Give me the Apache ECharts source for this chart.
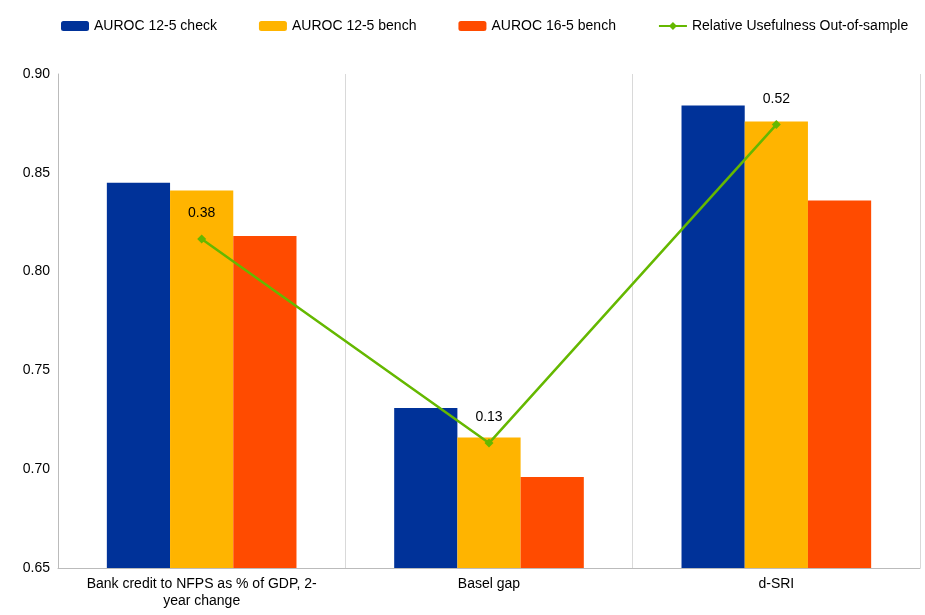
<!DOCTYPE html>
<html><head><meta charset="utf-8">
<script src="https://cdn.jsdelivr.net/npm/echarts@6/dist/echarts.min.js"></script>
<style>html,body{margin:0;padding:0;background:#fff}#c{width:925px;height:615px}</style>
</head><body><div id="c"></div>
<script>
const categories = ['Bank credit to NFPS as % of GDP, 2-\nyear change', 'Basel gap', 'd-SRI'];
const check125 = [0.845, 0.731, 0.884];
const bench125 = [0.841, 0.716, 0.876];
const bench165 = [0.818, 0.696, 0.836];
const usefulness = [0.38, 0.13, 0.52];
const yTicks = [0.65, 0.70, 0.75, 0.80, 0.85, 0.90];

const chart = echarts.init(document.getElementById('c'));
const font = 'Liberation Sans';
chart.setOption({
  textStyle: {fontFamily: font},
  legend: {top: 14, left: 56, width: 880, itemGap: 42, itemWidth: 28, itemHeight: 10,
    textStyle: {fontSize: 14, color: '#000', fontFamily: font},
    data: ['AUROC 12-5 check','AUROC 12-5 bench','AUROC 16-5 bench','Relative Usefulness Out-of-sample']},
  grid: {left: 58, right: 5, top: 74, bottom: 47},
  xAxis: {type: 'category', data: categories,
    axisLine: {onZero: false, lineStyle: {color: '#bbb'}}, axisTick: {show: false},
    splitLine: {show: true, interval: 0, lineStyle: {color: '#d9d9d9'}},
    axisLabel: {interval: 0, color: '#000', fontSize: 14, lineHeight: 17, margin: 8}},
  yAxis: [{type: 'value', min: 0.65, max: 0.90, interval: 0.05,
    axisLabel: {color: '#000', fontSize: 14, formatter: v => v.toFixed(2)},
    axisLine: {show: true, lineStyle: {color: '#bbb'}},
    splitLine: {show: false}},
    {type: 'value', min: -0.023, max: 0.582, show: false, splitLine: {show: false}}],
  series: [
    {name: 'AUROC 12-5 check', type: 'bar', data: check125, itemStyle: {color: '#003299'}, barGap: '0%', barCategoryGap: '34%'},
    {name: 'AUROC 12-5 bench', type: 'bar', data: bench125, itemStyle: {color: '#ffb400'}},
    {name: 'AUROC 16-5 bench', type: 'bar', data: bench165, itemStyle: {color: '#ff4b00'}},
    {name: 'Relative Usefulness Out-of-sample', type: 'line', yAxisIndex: 1, data: usefulness,
      symbol: 'diamond', symbolSize: 9, itemStyle: {color: '#65b800'}, lineStyle: {color: '#65b800', width: 2.5},
      label: {show: true, position: 'top', distance: 14, color: '#000', fontSize: 14, formatter: p => p.value.toFixed(2)}}
  ]
});
</script></body></html>
